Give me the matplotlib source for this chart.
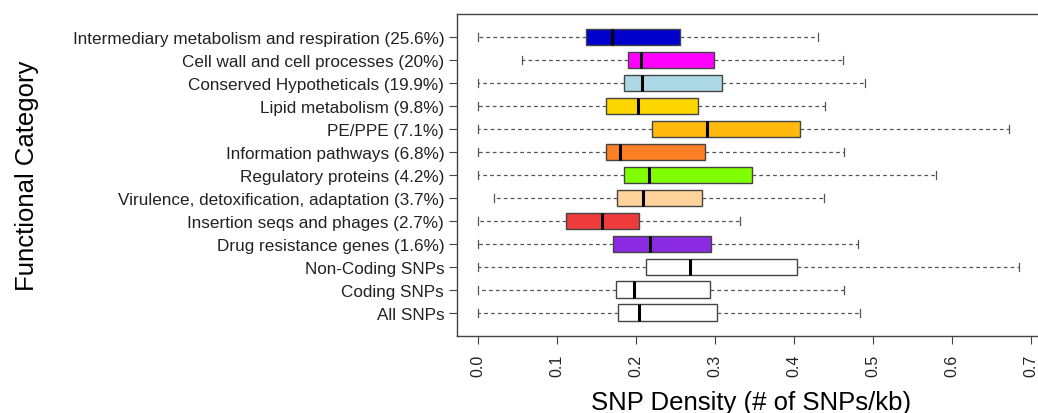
import matplotlib
matplotlib.use("Agg")
import matplotlib.pyplot as plt

plt.rcParams["font.family"] = ["Liberation Sans", "DejaVu Sans"]

categories = [
    "Intermediary metabolism and respiration (25.6%)",
    "Cell wall and cell processes (20%)",
    "Conserved Hypotheticals (19.9%)",
    "Lipid metabolism (9.8%)",
    "PE/PPE (7.1%)",
    "Information pathways (6.8%)",
    "Regulatory proteins (4.2%)",
    "Virulence, detoxification, adaptation (3.7%)",
    "Insertion seqs and phages (2.7%)",
    "Drug resistance genes (1.6%)",
    "Non-Coding SNPs",
    "Coding SNPs",
    "All SNPs",
]
whisker_lo = [0.0, 0.055, 0.0, 0.0, 0.0, 0.0, 0.0, 0.020, 0.0, 0.0, 0.0, 0.0, 0.0]
q1 = [0.136, 0.190, 0.185, 0.162, 0.220, 0.162, 0.185, 0.176, 0.111, 0.171, 0.213, 0.174, 0.177]
medians = [0.170, 0.206, 0.207, 0.202, 0.290, 0.180, 0.216, 0.209, 0.157, 0.218, 0.268, 0.197, 0.204]
q3 = [0.256, 0.299, 0.309, 0.278, 0.408, 0.287, 0.347, 0.284, 0.203, 0.295, 0.404, 0.293, 0.303]
whisker_hi = [0.431, 0.462, 0.490, 0.439, 0.673, 0.463, 0.580, 0.438, 0.332, 0.481, 0.685, 0.463, 0.484]
colors = ["#0000CD", "#FF00FF", "#ADD8E6", "#FFD700", "#FFB90F", "#FF7F24",
          "#7FFF00", "#FFD39B", "#EE3B3B", "#8A2BE2", "white", "white", "white"]

stats = []
for i, name in enumerate(categories):
    stats.append({"label": name, "whislo": whisker_lo[i], "q1": q1[i],
                  "med": medians[i], "q3": q3[i], "whishi": whisker_hi[i]})

fig = plt.figure(figsize=(10.38, 4.14), dpi=100)
# right edge of the frame falls just outside the picture, as in the original
ax = fig.add_axes([0.44, 0.1867, 0.5667, 0.777])

positions = list(range(len(categories), 0, -1))
bp = ax.bxp(stats, positions=positions, orientation="horizontal", widths=0.72,
            patch_artist=True, showfliers=False, capwidths=0.35,
            boxprops=dict(edgecolor="#444444", linewidth=1.0),
            medianprops=dict(color="black", linewidth=2.2, solid_capstyle="butt"),
            whiskerprops=dict(color="#555555", linewidth=0.9, linestyle=(0, (3, 2.5))),
            capprops=dict(color="#555555", linewidth=0.9))
for patch, c in zip(bp["boxes"], colors):
    patch.set_facecolor(c)

ax.set_xlim(-0.0274, 0.718)
ax.set_ylim(0.0, 14.0)
ax.set_xticks([0.0, 0.1, 0.2, 0.3, 0.4, 0.5, 0.6, 0.7])
ax.set_xticklabels(["0.0", "0.1", "0.2", "0.3", "0.4", "0.5", "0.6", "0.7"],
                   rotation=90, fontsize=11.5, color="#222222")
ax.set_yticks(positions)
ax.set_yticklabels(categories, fontsize=12.3, color="#222222")
ax.tick_params(axis="y", length=6, width=0.8, color="#444444", pad=3)
ax.tick_params(axis="x", length=6, width=0.8, color="#444444", pad=7)
for s in ax.spines.values():
    s.set_linewidth(1.0)
    s.set_color("#444444")
ax.spines["right"].set_visible(False)

ax.set_xlabel("SNP Density (# of SNPs/kb)", fontsize=18.5, labelpad=10)
fig.text(0.026, 0.575, "Functional Category", rotation=90, fontsize=18.5,
         ha="center", va="center")

fig.savefig("out.png", dpi=100)
